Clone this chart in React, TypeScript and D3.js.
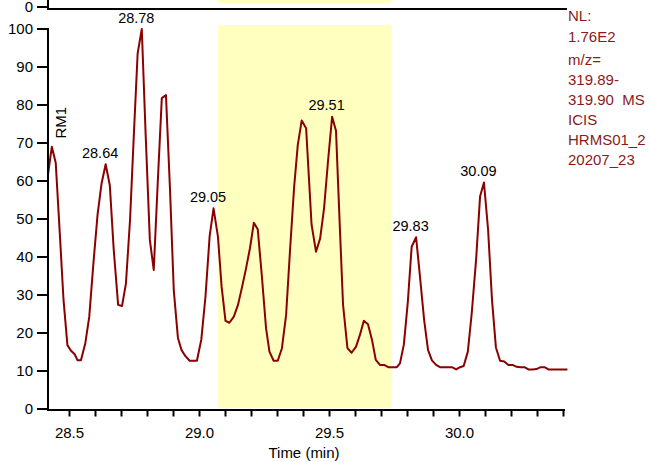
import React from "react";
import * as d3 from "d3";

const TIMES = [
  28.417, 28.432, 28.447, 28.462, 28.477, 28.492, 28.505, 28.52, 28.531, 28.544,
  28.561, 28.576, 28.592, 28.608, 28.623, 28.639, 28.655, 28.67, 28.687, 28.702,
  28.717, 28.733, 28.748, 28.762, 28.778, 28.793, 28.809, 28.824, 28.839, 28.855,
  28.871, 28.887, 28.901, 28.917, 28.931, 28.946, 28.962, 28.976, 28.99, 29.007,
  29.023, 29.039, 29.054, 29.071, 29.085, 29.1, 29.115, 29.132, 29.148, 29.164,
  29.179, 29.194, 29.209, 29.224, 29.24, 29.256, 29.269, 29.285, 29.301, 29.317,
  29.333, 29.349, 29.364, 29.378, 29.393, 29.41, 29.431, 29.448, 29.464, 29.479,
  29.494, 29.51, 29.525, 29.54, 29.552, 29.569, 29.585, 29.602, 29.617, 29.632,
  29.648, 29.664, 29.678, 29.694, 29.71, 29.726, 29.742, 29.759, 29.771, 29.786,
  29.801, 29.816, 29.833, 29.848, 29.864, 29.879, 29.894, 29.91, 29.925, 29.94,
  29.956, 29.971, 29.987, 30.002, 30.016, 30.032, 30.047, 30.064, 30.079, 30.094,
  30.11, 30.125, 30.14, 30.156, 30.172, 30.188, 30.204, 30.22, 30.235, 30.25,
  30.265, 30.281, 30.296, 30.312, 30.327, 30.342, 30.358, 30.373, 30.389, 30.404,
  30.415,
];

const INTENSITY = [
  61.6, 69.0, 64.8, 47.0, 28.7, 16.8, 15.4, 14.4, 12.8, 12.8,
  17.4, 24.3, 38.4, 51.2, 59.2, 64.4, 58.9, 42.0, 27.4, 27.1,
  33.0, 50.0, 73.0, 93.5, 100.0, 72.0, 44.5, 36.6, 59.0, 81.8,
  82.6, 57.0, 31.3, 18.7, 15.5, 13.9, 12.7, 12.7, 12.7, 18.3,
  29.6, 45.5, 52.8, 45.3, 32.2, 23.2, 22.7, 24.3, 27.4, 32.2,
  37.0, 42.3, 49.0, 47.3, 34.8, 21.2, 15.1, 12.7, 12.7, 16.0,
  24.7, 42.7, 58.5, 69.5, 75.9, 73.9, 48.5, 41.4, 44.9, 52.8,
  65.0, 76.9, 73.2, 47.4, 27.5, 16.0, 14.8, 16.4, 19.5, 23.2,
  22.3, 18.0, 12.9, 11.6, 11.6, 11.0, 11.0, 11.0, 12.0, 17.0,
  28.0, 42.7, 45.2, 34.8, 23.4, 15.5, 12.8, 11.6, 11.0, 11.0,
  11.0, 11.0, 10.4, 11.0, 11.3, 15.1, 25.2, 39.5, 55.9, 59.6,
  47.1, 28.7, 16.2, 12.7, 12.5, 11.6, 11.6, 11.1, 11.0, 11.0,
  10.4, 10.4, 10.5, 11.0, 11.0, 10.4, 10.4, 10.4, 10.4, 10.4,
  10.4,
];

const PEAK_LABELS = ["28.64", "28.78", "29.05", "29.51", "29.83", "30.09"];
const PEAK_TIMES = [28.639, 28.778, 29.054, 29.51, 29.833, 30.094];

const Y_TICKS = [0, 10, 20, 30, 40, 50, 60, 70, 80, 90, 100];
const X_TICKS = [28.5, 28.6, 28.7, 28.8, 28.9, 29.0, 29.1, 29.2, 29.3, 29.4, 29.5, 29.6, 29.7, 29.8, 29.9, 30.0, 30.1, 30.2, 30.3, 30.4];
const X_LABELED = [28.5, 29.0, 29.5, 30.0];

const HIGHLIGHT = [29.071, 29.738];

const INFO_LINES = ["NL:", "1.76E2", "m/z=", "319.89-", "319.90  MS", "ICIS", "HRMS01_2", "20207_23"];

const X_AXIS_TITLE = "Time (min)";
const TRACE_NAME = "RM1";

export default function App() {
  const W = 650;
  const H = 462;
  const x = d3.scaleLinear().domain([28.4173, 30.4038]).range([48, 564.5]);
  const y = d3.scaleLinear().domain([0, 100]).range([409, 29]);

  const pts = TIMES.map((t, i) => [t, INTENSITY[i]] as [number, number]);
  const line = d3
    .line<[number, number]>()
    .x((d) => x(d[0]))
    .y((d) => y(d[1]));

  const font = "Arial, 'Liberation Sans', sans-serif";
  const infoBaselines = [21, 42, 65, 85, 105, 125, 145, 165];

  const nearestVal = (t: number) => {
    let best = 0;
    let bd = Infinity;
    TIMES.forEach((tt, i) => {
      const dd = Math.abs(tt - t);
      if (dd < bd) {
        bd = dd;
        best = i;
      }
    });
    return INTENSITY[best];
  };

  const hx0 = x(HIGHLIGHT[0]);
  const hx1 = x(HIGHLIGHT[1]);

  return (
    <svg
      width={W}
      height={H}
      style={{ position: "absolute", left: 0, top: 0, background: "#fff" }}
      fontFamily={font}
    >
      <rect x={0} y={0} width={W} height={H} fill="#fff" />
      {/* upper panel remnant */}
      <rect x={hx0} y={0} width={hx1 - hx0} height={3} fill="#FFFFC0" />
      <line x1={48} x2={48} y1={0} y2={10} stroke="#000" strokeWidth={2} />
      <line x1={47} x2={567} y1={9} y2={9} stroke="#000" strokeWidth={2} />
      <line x1={37} x2={48} y1={7} y2={7} stroke="#000" strokeWidth={2} />
      <text x={33} y={7} dy="0.36em" textAnchor="end" fontSize={15} fill="#000">
        0
      </text>

      {/* highlight */}
      <rect x={hx0} y={25} width={hx1 - hx0} height={408 - 25} fill="#FFFFC0" />

      {/* trace */}
      <path d={line(pts) || ""} fill="none" stroke="#8B0000" strokeWidth={2} strokeLinejoin="round" />

      {/* y axis */}
      <line x1={48} x2={48} y1={28} y2={411} stroke="#000" strokeWidth={2} />
      {Y_TICKS.map((v) => (
        <g key={"y" + v}>
          <line x1={37} x2={48} y1={y(v)} y2={y(v)} stroke="#000" strokeWidth={2} />
          <text x={33} y={y(v)} dy="0.36em" textAnchor="end" fontSize={15} fill="#000">
            {v}
          </text>
        </g>
      ))}

      {/* x axis */}
      <line x1={47} x2={565} y1={410} y2={410} stroke="#000" strokeWidth={2} />
      {X_TICKS.map((t) => (
        <line key={"xt" + t} x1={x(t)} x2={x(t)} y1={410} y2={416.5} stroke="#000" strokeWidth={2} />
      ))}
      {X_LABELED.map((t) => (
        <text key={"xl" + t} x={x(t)} y={437.5} textAnchor="middle" fontSize={15} fill="#000">
          {d3.format(".1f")(t)}
        </text>
      ))}
      <text x={304} y={458} textAnchor="middle" fontSize={15} fill="#000">
        {X_AXIS_TITLE}
      </text>

      {/* trace name */}
      <text transform="translate(66,138.5) rotate(-90)" fontSize={15} fill="#000">
        {TRACE_NAME}
      </text>

      {/* peak labels */}
      {PEAK_LABELS.map((lab, i) => (
        <text
          key={"p" + lab}
          x={x(PEAK_TIMES[i]) - 5.5}
          y={y(nearestVal(PEAK_TIMES[i])) - 6.5}
          textAnchor="middle"
          fontSize={14.5}
          fill="#000"
        >
          {lab}
        </text>
      ))}

      {/* info text */}
      {INFO_LINES.map((s, i) => (
        <text key={"i" + i} x={568} y={infoBaselines[i]} fontSize={15} fill="#8B1A1A" style={{ whiteSpace: "pre" }}>
          {s}
        </text>
      ))}
    </svg>
  );
}
